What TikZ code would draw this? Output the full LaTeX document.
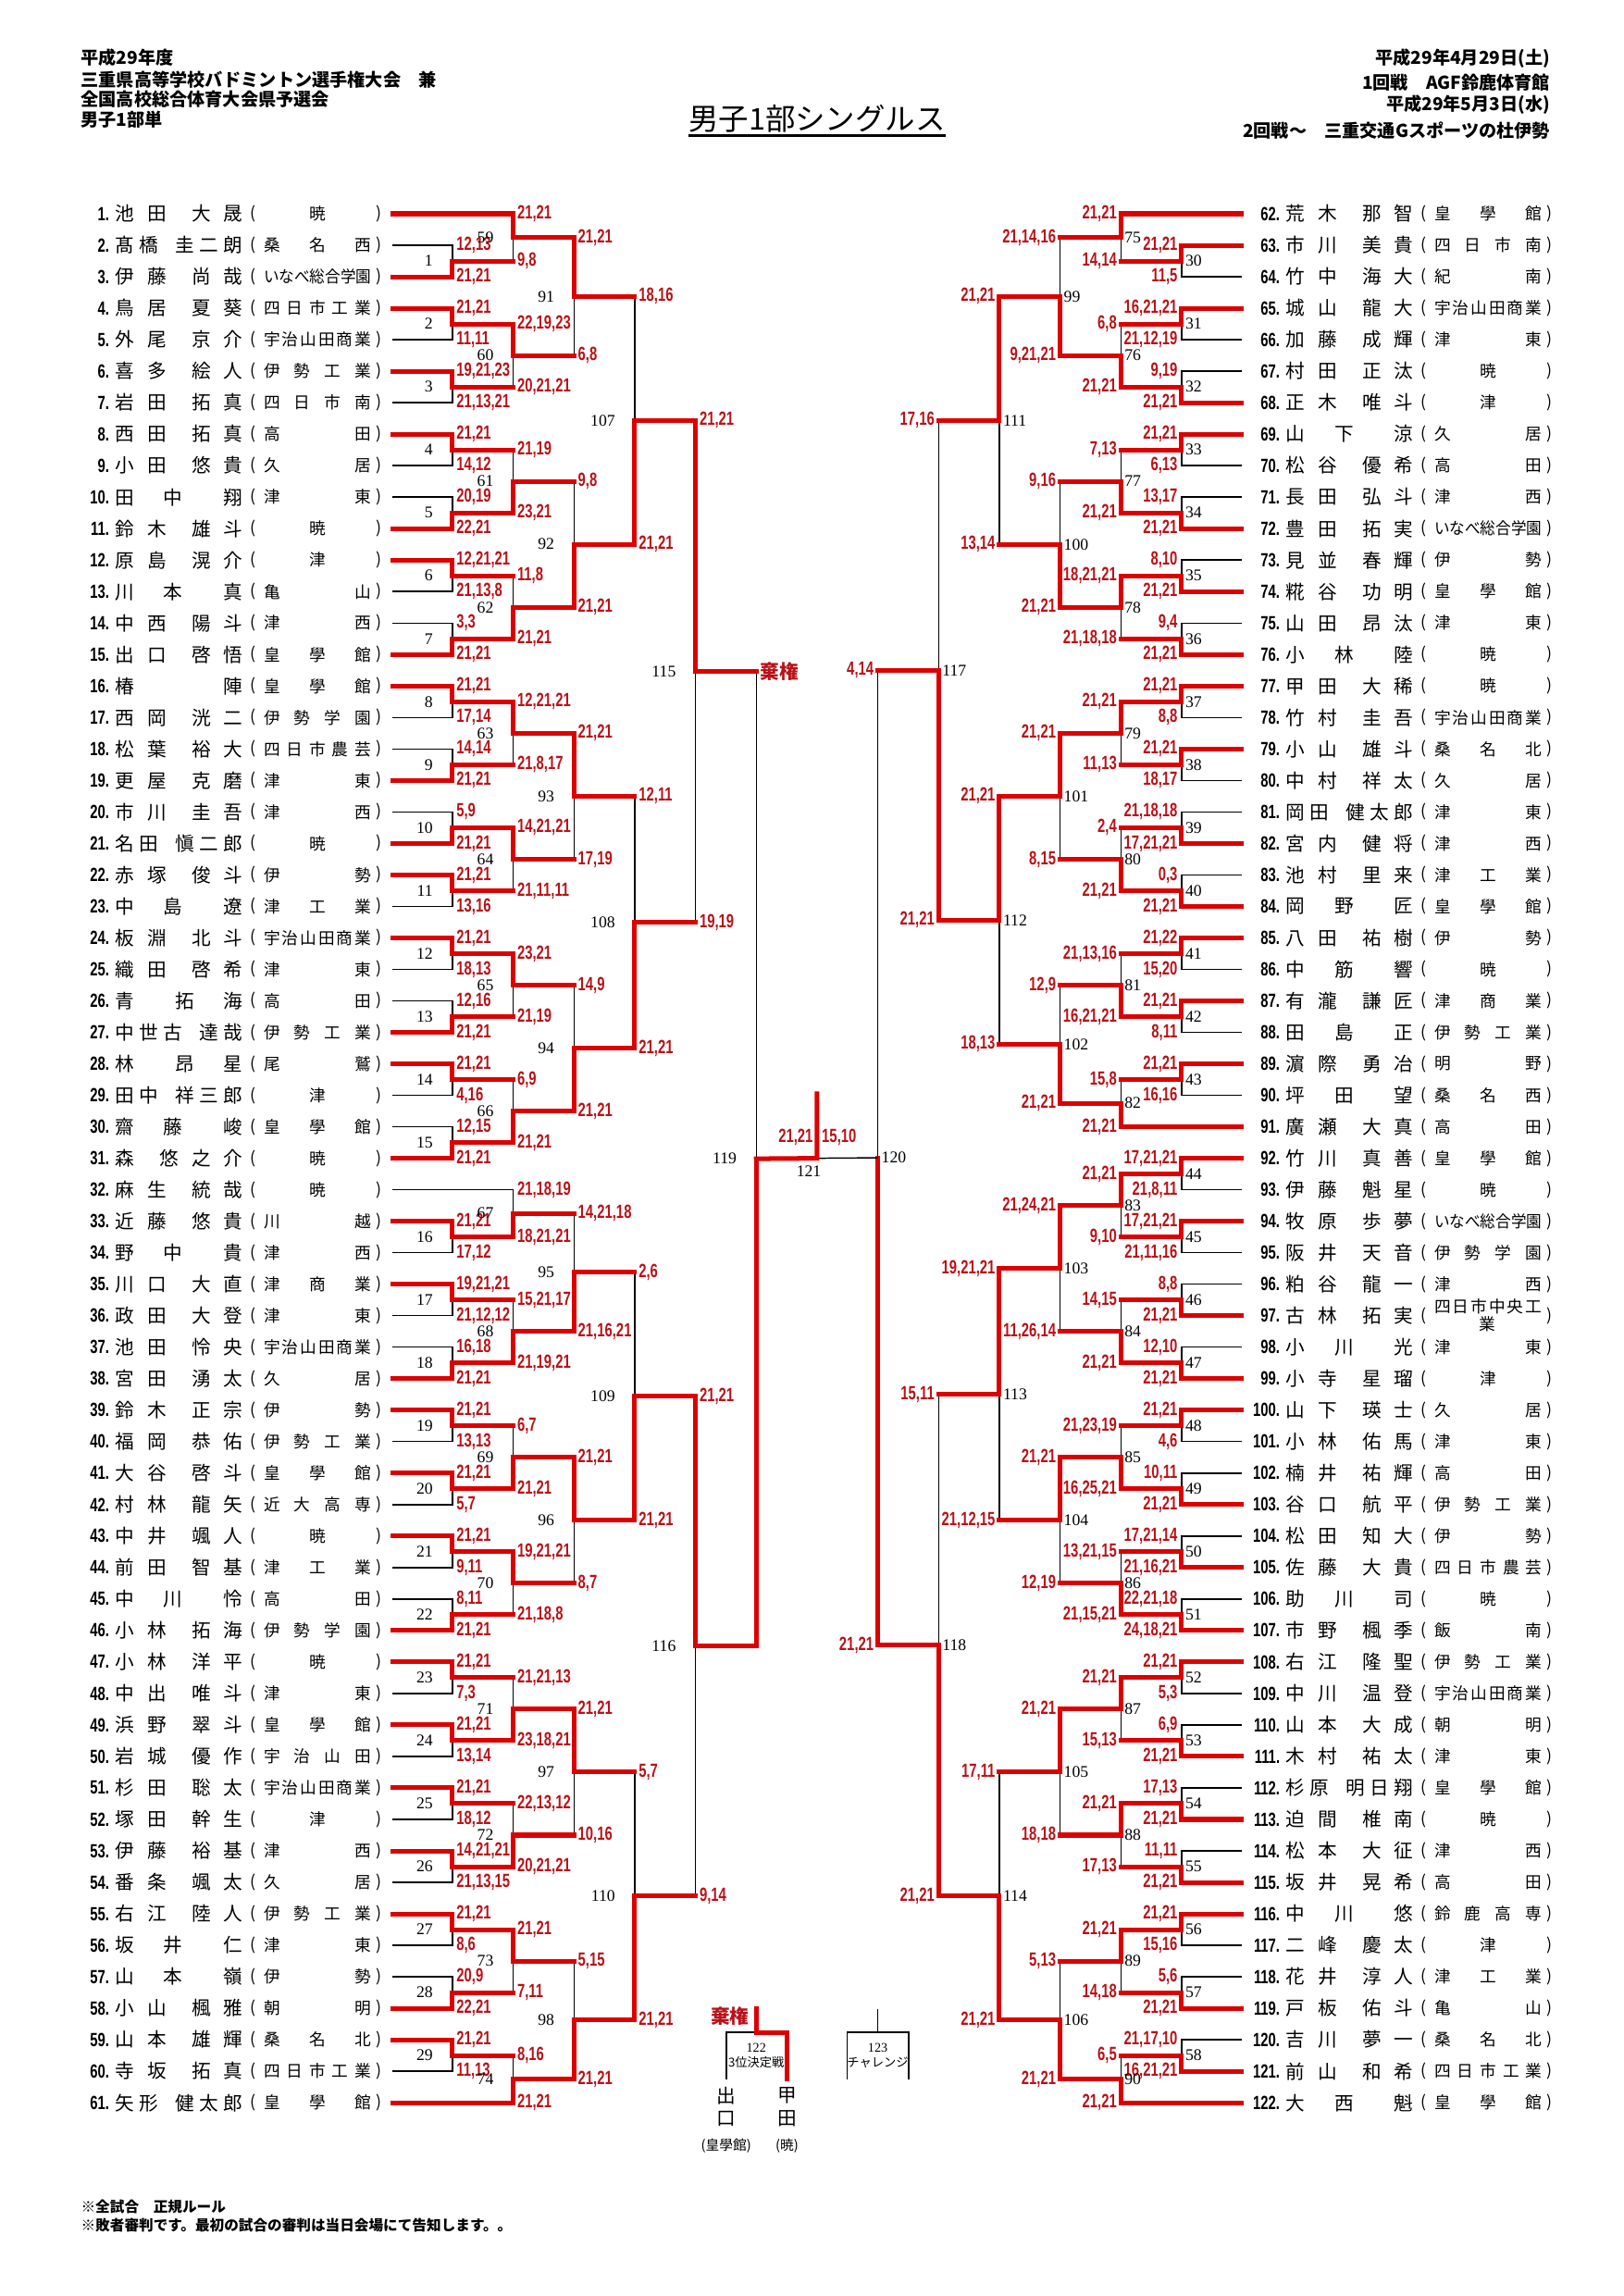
\documentclass[tikz,border=0pt]{standalone}
\usepackage{fontspec}
\usepackage{graphicx}
\usetikzlibrary{calc}
\setmainfont{Liberation Serif}
\newfontfamily\jp{Noto Sans CJK JP}
\newfontfamily\scf[FakeStretch=0.72]{Liberation Sans}
\definecolor{lnred}{RGB}{220,0,0}
\definecolor{txred}{RGB}{185,18,24}

\newlength\namw \setlength\namw{46.7pt}
\newlength\schw \setlength\schw{39.4pt}
\newsavebox\schbox
% spread the letters of a name or school over a fixed box
\def\spreadN#1#2\spreadend{#1\ifx\relax#2\relax\else\hskip0pt plus1fill\relax\spreadN#2\spreadend\fi}
\def\spreadS#1#2\spreadend{#1\ifx\relax#2\relax\else\hskip0pt plus1filll\relax\spreadS#2\spreadend\fi}
\def\firstof#1#2\endfirst{#1}
\newcommand\namebox[2]{\hbox to\namw{\expandafter\spreadN#1\spreadend\hskip4.3pt plus1fill\relax\expandafter\spreadN#2\spreadend}}
\newcommand\schoolbox[1]{\sbox\schbox{\expandafter\spreadS#1\spreadend}%
  \ifdim\wd\schbox>\schw\resizebox{\schw}{\height}{\usebox\schbox}%
  \else\hbox to\schw{\hskip0pt plus1fill\relax\expandafter\spreadS#1\spreadend\hskip0pt plus1fill\relax}\fi}

\tikzset{
    lost/.style={draw=black, line width=0.5pt},
    won/.style={draw=lnred, line width=1.7pt, line cap=rect},
    scoretxt/.style={inner sep=0pt, text=txred, font=\scf\bfseries\fontsize{7}{8}\selectfont},
    scoreL/.style={scoretxt, anchor=west, xshift=1.3pt},
    scoreR/.style={scoretxt, anchor=east, xshift=-1.3pt},
    labeltxt/.style={inner sep=0pt, font=\fontsize{6}{7}\selectfont},
    labelL/.style={labeltxt, anchor=east, xshift=-7pt},
    labelR/.style={labeltxt, anchor=west, xshift=1.2pt},
    numtxt/.style={inner sep=0pt, anchor=east, font=\scf\bfseries\fontsize{7}{8}\selectfont},
    nametxt/.style={inner sep=0pt, anchor=west, font=\jp\fontsize{7}{8}\selectfont},
    schtxt/.style={inner sep=0pt, font=\jp\fontsize{6}{7}\selectfont},
    headtxt/.style={inner sep=0pt, anchor=west, font=\jp\bfseries\fontsize{6.5}{7}\selectfont},
    headR/.style={headtxt, anchor=east},
    smalltxt/.style={inner sep=0pt, font=\jp\fontsize{4.5}{5}\selectfont},
}

% one player row: number, name, (school)
\newcommand\player[5]{%
  \node[numtxt] (no#1) at (75+#2,\yy) {#1.};
  \node[nametxt] (nm#1) at (78.5+#2,\yy) {\namebox{#3}{#4}};
  \node[schtxt] (lp#1) at (173+#2,\yy) {(};
  \ifnum#1=97
    \node[schtxt,anchor=west] (sc#1) at (179.8+#2,\yy-6.3) {\schoolbox{四日市中央工}};
    \node[schtxt] (sd#1) at (216.5+#2,\yy+6) {業};
  \else
    \node[schtxt,anchor=west] (sc#1) at (179.8+#2,\yy) {\schoolbox{#5}};
  \fi
  \node[schtxt] (rp#1) at (259+#2,\yy) {)};
}

% one match: no., x of its line, winner, loser, scores, side
\newcommand\bout[7]{%
  \path let \p1=(#3), \p2=(#4), \p3=(#2,0) in coordinate (m#1) at (\x3,{0.5*(\y1+\y2)});
  \draw[lost] (#4) -| (m#1);
  \edef\tmpf{\expandafter\firstof#4\endfirst}%
  \if m\tmpf \draw[won] (#4) -- (#4 -| m#1);\fi
  \draw[won] (#3) -| (m#1);
  \node[score#7] (sw#1) at (#3 -| m#1) {#5};
  \node[score#7] (sl#1) at (#4 -| m#1) {#6};
  \node[label#7] (lb#1) at (m#1) {#1};
}

\begin{document}
\begin{tikzpicture}[x=0.5366pt, y=-0.5366pt]
\fill[white] (0,0) rectangle (1109,1568);
\useasboundingbox (0,0) rectangle (1109,1568);

% heading
\node[headtxt] (h1) at (55,39.4) {平成29年度};
\node[headtxt] (h2) at (55,54.4) {三重県高等学校バドミントン選手権大会　兼};
\node[headtxt] (h3) at (55,67.9) {全国高校総合体育大会県予選会};
\node[headtxt] (h4) at (55,81.6) {男子1部単};
\node[headR] (d1) at (1059,40) {平成29年4月29日(土)};
\node[headR] (d2) at (1059,56.5) {1回戦　AGF鈴鹿体育館};
\node[headR] (d3) at (1059,71.7) {平成29年5月3日(水)};
\node[headR] (d4) at (1059,89) {2回戦～　三重交通Gスポーツの杜伊勢};
\node[inner sep=0pt, font=\jp\fontsize{11}{12}\selectfont] (title) at (558,81) {男子1部シングルス};
\coordinate (ul1) at (470,92.7);
\coordinate (ul2) at (646,92.7);
\draw[line width=0.8pt] (ul1) -- (ul2);

% players
\foreach \n/\fa/\gi/\sch in {1/池田/大晟/暁, 2/髙橋/圭二朗/桑名西, 3/伊藤/尚哉/いなべ総合学園,
  4/鳥居/夏葵/四日市工業, 5/外尾/京介/宇治山田商業, 6/喜多/絵人/伊勢工業, 7/岩田/拓真/四日市南,
  8/西田/拓真/高田, 9/小田/悠貴/久居, 10/田中/翔/津東, 11/鈴木/雄斗/暁, 12/原島/滉介/津,
  13/川本/真/亀山, 14/中西/陽斗/津西, 15/出口/啓悟/皇學館, 16/椿/陣/皇學館, 17/西岡/洸二/伊勢学園,
  18/松葉/裕大/四日市農芸, 19/更屋/克磨/津東, 20/市川/圭吾/津西, 21/名田/愼二郎/暁, 22/赤塚/俊斗/伊勢,
  23/中島/遼/津工業, 24/板淵/北斗/宇治山田商業, 25/織田/啓希/津東, 26/青/拓海/高田,
  27/中世古/達哉/伊勢工業, 28/林/昂星/尾鷲, 29/田中/祥三郎/津, 30/齋藤/峻/皇學館, 31/森/悠之介/暁,
  32/麻生/統哉/暁, 33/近藤/悠貴/川越, 34/野中/貴/津西, 35/川口/大直/津商業, 36/政田/大登/津東,
  37/池田/怜央/宇治山田商業, 38/宮田/湧太/久居, 39/鈴木/正宗/伊勢, 40/福岡/恭佑/伊勢工業,
  41/大谷/啓斗/皇學館, 42/村林/龍矢/近大高専, 43/中井/颯人/暁, 44/前田/智基/津工業, 45/中川/怜/高田,
  46/小林/拓海/伊勢学園, 47/小林/洋平/暁, 48/中出/唯斗/津東, 49/浜野/翠斗/皇學館, 50/岩城/優作/宇治山田,
  51/杉田/聡太/宇治山田商業, 52/塚田/幹生/津, 53/伊藤/裕基/津西, 54/番条/颯太/久居,
  55/右江/陸人/伊勢工業, 56/坂井/仁/津東, 57/山本/嶺/伊勢, 58/小山/楓雅/朝明, 59/山本/雄輝/桑名北,
  60/寺坂/拓真/四日市工業, 61/矢形/健太郎/皇學館}{
  \pgfmathsetmacro\yy{146+(\n-1)*21.5}
  \coordinate (p\n) at (268,\yy);
  \player{\n}{0}{\fa}{\gi}{\sch}
}
\foreach \n/\fa/\gi/\sch in {62/荒木/那智/皇學館, 63/市川/美貴/四日市南, 64/竹中/海大/紀南,
  65/城山/龍大/宇治山田商業, 66/加藤/成輝/津東, 67/村田/正汰/暁, 68/正木/唯斗/津, 69/山下/涼/久居,
  70/松谷/優希/高田, 71/長田/弘斗/津西, 72/豊田/拓実/いなべ総合学園, 73/見並/春輝/伊勢,
  74/糀谷/功明/皇學館, 75/山田/昂汰/津東, 76/小林/陸/暁, 77/甲田/大稀/暁, 78/竹村/圭吾/宇治山田商業,
  79/小山/雄斗/桑名北, 80/中村/祥太/久居, 81/岡田/健太郎/津東, 82/宮内/健将/津西, 83/池村/里来/津工業,
  84/岡野/匠/皇學館, 85/八田/祐樹/伊勢, 86/中筋/響/暁, 87/有瀧/謙匠/津商業, 88/田島/正/伊勢工業,
  89/濵際/勇冶/明野, 90/坪田/望/桑名西, 91/廣瀬/大真/高田, 92/竹川/真善/皇學館, 93/伊藤/魁星/暁,
  94/牧原/歩夢/いなべ総合学園, 95/阪井/天音/伊勢学園, 96/粕谷/龍一/津西, 97/古林/拓実/四日市中央工業,
  98/小川/光/津東, 99/小寺/星瑠/津, 100/山下/瑛士/久居, 101/小林/佑馬/津東, 102/楠井/祐輝/高田,
  103/谷口/航平/伊勢工業, 104/松田/知大/伊勢, 105/佐藤/大貴/四日市農芸, 106/助川/司/暁,
  107/市野/楓季/飯南, 108/右江/隆聖/伊勢工業, 109/中川/温登/宇治山田商業, 110/山本/大成/朝明,
  111/木村/祐太/津東, 112/杉原/明日翔/皇學館, 113/迫間/椎南/暁, 114/松本/大征/津西,
  115/坂井/晃希/高田, 116/中川/悠/鈴鹿高専, 117/二峰/慶太/津, 118/花井/淳人/津工業,
  119/戸板/佑斗/亀山, 120/吉川/夢一/桑名北, 121/前山/和希/四日市工業, 122/大西/魁/皇學館}{
  \pgfmathsetmacro\yy{146+(\n-62)*21.5}
  \coordinate (p\n) at (848,\yy);
  \player{\n}{799.5}{\fa}{\gi}{\sch}
}

% left half of the draw
\foreach \mm/\xx/\ww/\lo/\sa/\sb in {
  1/309/p3/p2/{21,21}/{12,13}, 2/309/p4/p5/{21,21}/{11,11}, 3/309/p6/p7/{19,21,23}/{21,13,21},
  4/309/p8/p9/{21,21}/{14,12}, 5/309/p11/p10/{22,21}/{20,19}, 6/309/p12/p13/{12,21,21}/{21,13,8},
  7/309/p15/p14/{21,21}/{3,3}, 8/309/p16/p17/{21,21}/{17,14}, 9/309/p19/p18/{21,21}/{14,14},
  10/309/p21/p20/{21,21}/{5,9}, 11/309/p22/p23/{21,21}/{13,16}, 12/309/p24/p25/{21,21}/{18,13},
  13/309/p27/p26/{21,21}/{12,16}, 14/309/p28/p29/{21,21}/{4,16}, 15/309/p31/p30/{21,21}/{12,15},
  16/309/p33/p34/{21,21}/{17,12}, 17/309/p35/p36/{19,21,21}/{21,12,12}, 18/309/p38/p37/{21,21}/{16,18},
  19/309/p39/p40/{21,21}/{13,13}, 20/309/p41/p42/{21,21}/{5,7}, 21/309/p43/p44/{21,21}/{9,11},
  22/309/p46/p45/{21,21}/{8,11}, 23/309/p47/p48/{21,21}/{7,3}, 24/309/p49/p50/{21,21}/{13,14},
  25/309/p51/p52/{21,21}/{18,12}, 26/309/p53/p54/{14,21,21}/{21,13,15}, 27/309/p55/p56/{21,21}/{8,6},
  28/309/p58/p57/{22,21}/{20,9}, 29/309/p59/p60/{21,21}/{11,13},
  59/350.5/p1/m1/{21,21}/{9,8}, 60/350.5/m2/m3/{22,19,23}/{20,21,21}, 61/350.5/m5/m4/{23,21}/{21,19},
  62/350.5/m7/m6/{21,21}/{11,8}, 63/350.5/m8/m9/{12,21,21}/{21,8,17}, 64/350.5/m10/m11/{14,21,21}/{21,11,11},
  65/350.5/m12/m13/{23,21}/{21,19}, 66/350.5/m15/m14/{21,21}/{6,9}, 67/350.5/m16/p32/{18,21,21}/{21,18,19},
  68/350.5/m18/m17/{21,19,21}/{15,21,17}, 69/350.5/m20/m19/{21,21}/{6,7}, 70/350.5/m21/m22/{19,21,21}/{21,18,8},
  71/350.5/m24/m23/{23,18,21}/{21,21,13}, 72/350.5/m26/m25/{20,21,21}/{22,13,12},
  73/350.5/m27/m28/{21,21}/{7,11}, 74/350.5/p61/m29/{21,21}/{8,16},
  91/392/m59/m60/{21,21}/{6,8}, 92/392/m62/m61/{21,21}/{9,8}, 93/392/m63/m64/{21,21}/{17,19},
  94/392/m66/m65/{21,21}/{14,9}, 95/392/m68/m67/{21,16,21}/{14,21,18}, 96/392/m69/m70/{21,21}/{8,7},
  97/392/m71/m72/{21,21}/{10,16}, 98/392/m74/m73/{21,21}/{5,15},
  107/433.5/m92/m91/{21,21}/{18,16}, 108/433.5/m94/m93/{21,21}/{12,11},
  109/433.5/m96/m95/{21,21}/{2,6}, 110/433.5/m98/m97/{21,21}/{5,7},
  115/475/m107/m108/{21,21}/{19,19}, 116/475/m109/m110/{21,21}/{9,14},
  119/516.5/m116/m115/{}/{\jp\bfseries 棄権}}{
  \bout{\mm}{\xx}{\ww}{\lo}{\sa}{\sb}{L}
}

% right half of the draw
\foreach \mm/\xx/\ww/\lo/\sa/\sb in {
  30/807/p63/p64/{21,21}/{11,5}, 31/807/p65/p66/{16,21,21}/{21,12,19}, 32/807/p68/p67/{21,21}/{9,19},
  33/807/p69/p70/{21,21}/{6,13}, 34/807/p72/p71/{21,21}/{13,17}, 35/807/p74/p73/{21,21}/{8,10},
  36/807/p76/p75/{21,21}/{9,4}, 37/807/p77/p78/{21,21}/{8,8}, 38/807/p79/p80/{21,21}/{18,17},
  39/807/p82/p81/{17,21,21}/{21,18,18}, 40/807/p84/p83/{21,21}/{0,3}, 41/807/p85/p86/{21,22}/{15,20},
  42/807/p87/p88/{21,21}/{8,11}, 43/807/p89/p90/{21,21}/{16,16}, 44/807/p92/p93/{17,21,21}/{21,8,11},
  45/807/p94/p95/{17,21,21}/{21,11,16}, 46/807/p97/p96/{21,21}/{8,8}, 47/807/p99/p98/{21,21}/{12,10},
  48/807/p100/p101/{21,21}/{4,6}, 49/807/p103/p102/{21,21}/{10,11}, 50/807/p105/p104/{21,16,21}/{17,21,14},
  51/807/p107/p106/{24,18,21}/{22,21,18}, 52/807/p108/p109/{21,21}/{5,3}, 53/807/p111/p110/{21,21}/{6,9},
  54/807/p113/p112/{21,21}/{17,13}, 55/807/p115/p114/{21,21}/{11,11}, 56/807/p116/p117/{21,21}/{15,16},
  57/807/p119/p118/{21,21}/{5,6}, 58/807/p121/p120/{16,21,21}/{21,17,10},
  75/765.5/p62/m30/{21,21}/{14,14}, 76/765.5/m32/m31/{21,21}/{6,8}, 77/765.5/m34/m33/{21,21}/{7,13},
  78/765.5/m35/m36/{18,21,21}/{21,18,18}, 79/765.5/m37/m38/{21,21}/{11,13}, 80/765.5/m40/m39/{21,21}/{2,4},
  81/765.5/m42/m41/{16,21,21}/{21,13,16}, 82/765.5/p91/m43/{21,21}/{15,8}, 83/765.5/m44/m45/{21,21}/{9,10},
  84/765.5/m47/m46/{21,21}/{14,15}, 85/765.5/m49/m48/{16,25,21}/{21,23,19},
  86/765.5/m51/m50/{21,15,21}/{13,21,15}, 87/765.5/m52/m53/{21,21}/{15,13},
  88/765.5/m54/m55/{21,21}/{17,13}, 89/765.5/m56/m57/{21,21}/{14,18}, 90/765.5/p122/m58/{21,21}/{6,5},
  99/724/m76/m75/{9,21,21}/{21,14,16}, 100/724/m78/m77/{21,21}/{9,16}, 101/724/m79/m80/{21,21}/{8,15},
  102/724/m82/m81/{21,21}/{12,9}, 103/724/m83/m84/{21,24,21}/{11,26,14}, 104/724/m85/m86/{21,21}/{12,19},
  105/724/m87/m88/{21,21}/{18,18}, 106/724/m90/m89/{21,21}/{5,13},
  111/682.5/m99/m100/{21,21}/{13,14}, 112/682.5/m101/m102/{21,21}/{18,13},
  113/682.5/m103/m104/{19,21,21}/{21,12,15}, 114/682.5/m106/m105/{21,21}/{17,11},
  117/641/m112/m111/{21,21}/{17,16}, 118/641/m114/m113/{21,21}/{15,11},
  120/599.5/m118/m117/{21,21}/{4,14}}{
  \bout{\mm}{\xx}{\ww}{\lo}{\sa}{\sb}{R}
}

% final
\coordinate (m121) at ($(m119)!.5!(m120)$);
\coordinate (champ) at ($(m121)+(0,-44)$);
\draw[lost] (m121) -- (m120);
\draw[won] (m119) -- (m121) -- (champ);
\node[scoretxt, anchor=south east, xshift=-1.3pt, yshift=4.5pt] (sw121) at (m121) {21,21};
\node[scoretxt, anchor=south west, xshift=1.6pt, yshift=4.5pt] (sl121) at (m121) {15,10};
\node[labeltxt, anchor=north, xshift=-3pt, yshift=-2.5pt] (lb121) at (m121) {121};

% 3rd place and challenge
\coordinate (t122) at (516.5,1372);
\coordinate (j122) at (516.5,1388);
\coordinate (a122) at (496,1420);
\coordinate (b122) at (537.5,1420);
\draw[lost] (a122) |- (j122);
\draw[won] (t122) -- (j122) -| (b122);
\node[scoretxt, font=\jp\bfseries\fontsize{7}{8}\selectfont, anchor=north east, xshift=-2.5pt, yshift=1pt] (k122) at (t122) {棄権};
\node[labeltxt, font=\fontsize{4.8}{5}\selectfont] (lb122) at (516.5,1398.5) {122};
\node[smalltxt] (tx122) at (516.5,1408.7) {3位決定戦};
\node[inner sep=0pt, font=\jp\fontsize{7}{8}\selectfont] (q1) at (496,1431) {出};
\node[inner sep=0pt, font=\jp\fontsize{7}{8}\selectfont] (q2) at (496,1447) {口};
\node[inner sep=0pt, font=\jp\fontsize{5}{6}\selectfont] (q3) at (496,1465.6) {(皇學館)};
\node[inner sep=0pt, font=\jp\fontsize{7}{8}\selectfont] (q4) at (537.5,1431) {甲};
\node[inner sep=0pt, font=\jp\fontsize{7}{8}\selectfont] (q5) at (537.5,1447) {田};
\node[inner sep=0pt, font=\jp\fontsize{5}{6}\selectfont] (q6) at (537.5,1465.6) {(暁)};

\coordinate (t123) at (599.5,1372);
\coordinate (j123) at (599.5,1388);
\coordinate (a123) at (578.5,1420);
\coordinate (b123) at (620.5,1420);
\draw[lost] (a123) |- (j123) -| (b123);
\draw[lost] (j123) -- (t123);
\node[labeltxt, font=\fontsize{4.8}{5}\selectfont] (lb123) at (599.5,1398.5) {123};
\node[smalltxt] (tx123) at (599.5,1408.7) {チャレンジ};

% notes
\node[headtxt, font=\jp\bfseries\fontsize{5.3}{6}\selectfont] (f1) at (55,1506.8) {※全試合　正規ルール};
\node[headtxt, font=\jp\bfseries\fontsize{5.3}{6}\selectfont] (f2) at (55,1519.5) {※敗者審判です。最初の試合の審判は当日会場にて告知します。。};
\end{tikzpicture}
\end{document}
